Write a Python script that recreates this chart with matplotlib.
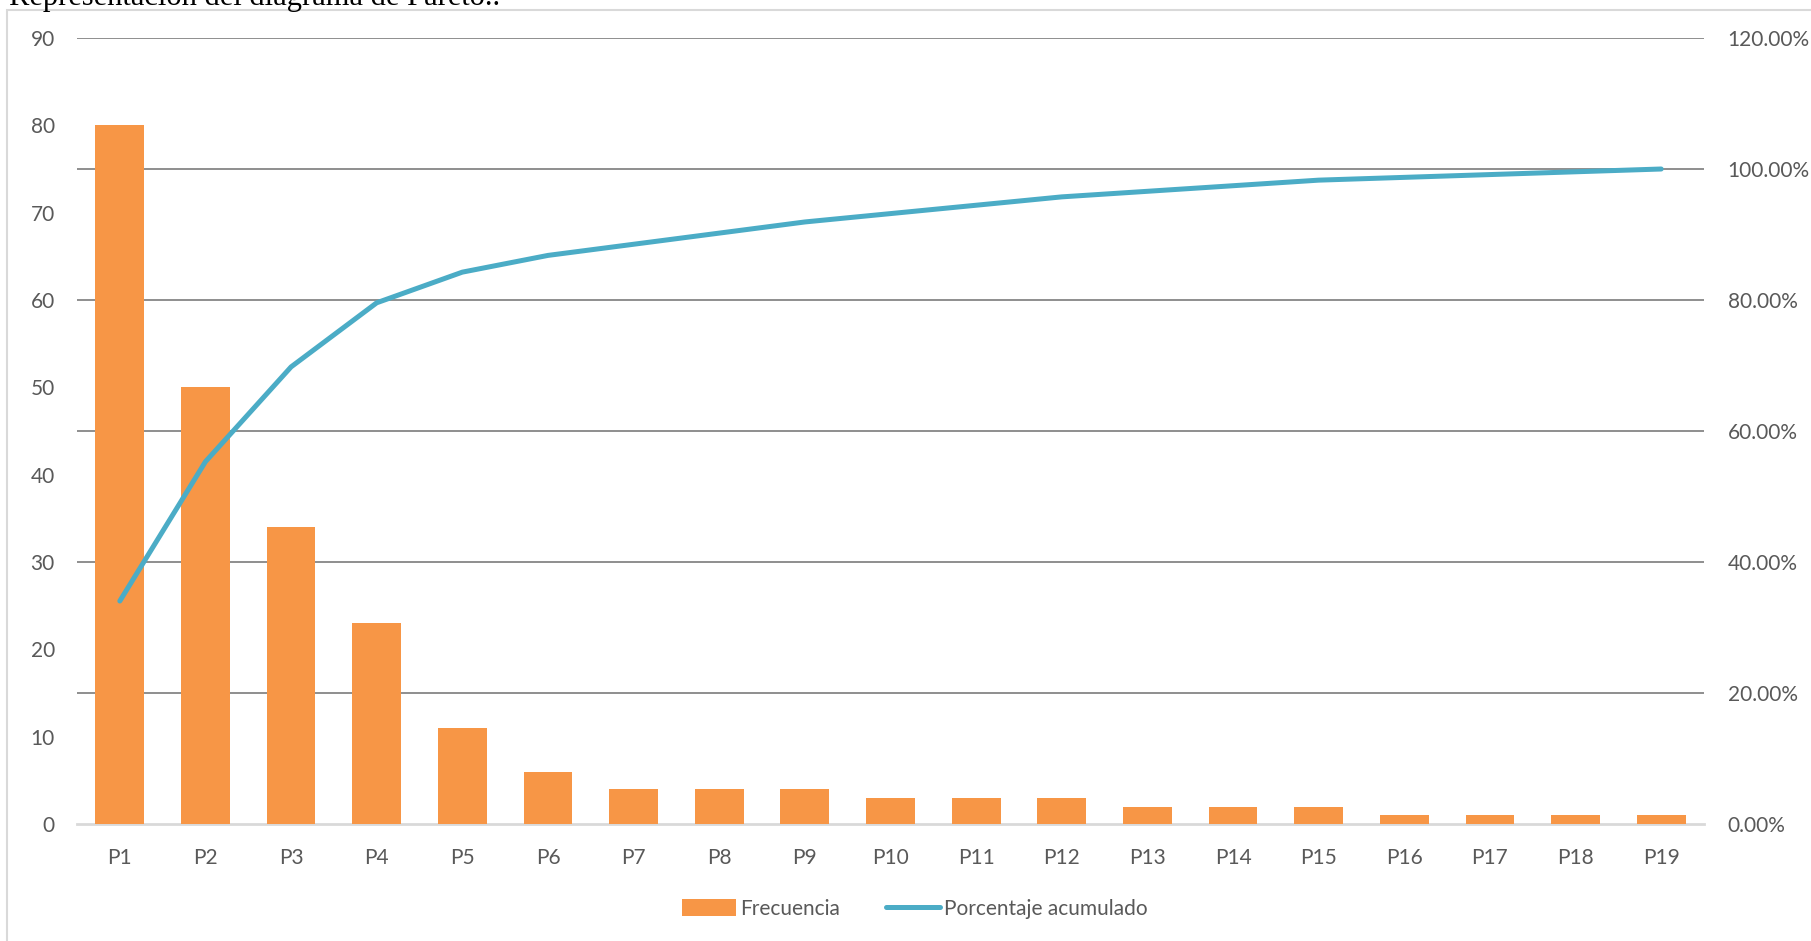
import matplotlib.pyplot as plt
import numpy as np
from matplotlib.patches import Patch, Rectangle
from matplotlib.lines import Line2D

categories = ['P1', 'P2', 'P3', 'P4', 'P5', 'P6', 'P7', 'P8', 'P9', 'P10',
              'P11', 'P12', 'P13', 'P14', 'P15', 'P16', 'P17', 'P18', 'P19']
frecuencia = [80, 50, 34, 23, 11, 6, 4, 4, 4, 3, 3, 3, 2, 2, 2, 1, 1, 1, 1]
left_ticks = [0, 10, 20, 30, 40, 50, 60, 70, 80, 90]
right_ticks = [0, 20, 40, 60, 80, 100, 120]

# cumulative percentage of the Pareto chart
acumulado = np.cumsum(frecuencia) / np.sum(frecuencia) * 100

bar_color = '#F79646'
line_color = '#4BACC6'
text_color = '#595959'
font = 'Lato'

fig = plt.figure(figsize=(18.11, 9.41), dpi=100)
ax = fig.add_axes([77 / 1811, 1 - 824 / 941, (1704 - 77) / 1811, (824 - 38) / 941])
ax2 = ax.twinx()

x = np.arange(len(categories))

# gridlines follow the secondary axis ticks, drawn behind the bars
for p in right_ticks[1:]:
    ax.axhline(p / 120 * 90, color='#868686', lw=1.3, zorder=0)

ax.bar(x, frecuencia, width=0.57, color=bar_color, zorder=2)
ax.set_xlim(-0.5, len(categories) - 0.5)
ax.set_ylim(0, 90)
ax.set_yticks(left_ticks)
ax.set_xticks(x)
ax.set_xticklabels(categories)

ax2.plot(x, acumulado, color=line_color, lw=3.6, solid_capstyle='round',
         solid_joinstyle='round', zorder=3)
ax2.set_ylim(0, 120)
ax2.set_yticks(right_ticks)
ax2.set_yticklabels([f'{t:.2f}%' for t in right_ticks])

for a in (ax, ax2):
    for s in ['top', 'left', 'right', 'bottom']:
        a.spines[s].set_visible(False)
    a.tick_params(length=0, labelsize=15, labelcolor=text_color)
    for lbl in a.get_xticklabels() + a.get_yticklabels():
        lbl.set_fontfamily(font)

ax.spines['bottom'].set_visible(True)
ax.spines['bottom'].set_color('#D9D9D9')
ax.spines['bottom'].set_linewidth(2)
ax.spines['bottom'].set_zorder(1)
ax.tick_params(axis='y', pad=16)
ax.tick_params(axis='x', pad=17)
ax2.tick_params(axis='y', pad=17)

# chart frame (cut off at the right and bottom)
fig.patches.append(Rectangle((7 / 1811, -0.1), 1.2, 1.1 - 10 / 941,
                             transform=fig.transFigure, fill=False,
                             edgecolor='#D9D9D9', lw=1.5))

# caption cut off at the top of the picture, as in the source page
fig.text(9 / 1811, 1 - 5 / 941, 'Representación del diagrama de Pareto..',
         family='Liberation Serif', fontsize=22, color='black', va='baseline')

handles = [Patch(facecolor=bar_color, edgecolor='none', label='Frecuencia'),
           Line2D([0], [0], color=line_color, lw=3.6, solid_capstyle='round',
                  label='Porcentaje acumulado')]
fig.legend(handles=handles, loc='center', bbox_to_anchor=(0.505, 1 - 909 / 941),
           ncol=2, frameon=False, handlelength=2.6, handleheight=0.9,
           handletextpad=0.2, columnspacing=2.2,
           prop={'family': font, 'size': 15}, labelcolor=text_color)

plt.savefig('out.png', dpi=100)
